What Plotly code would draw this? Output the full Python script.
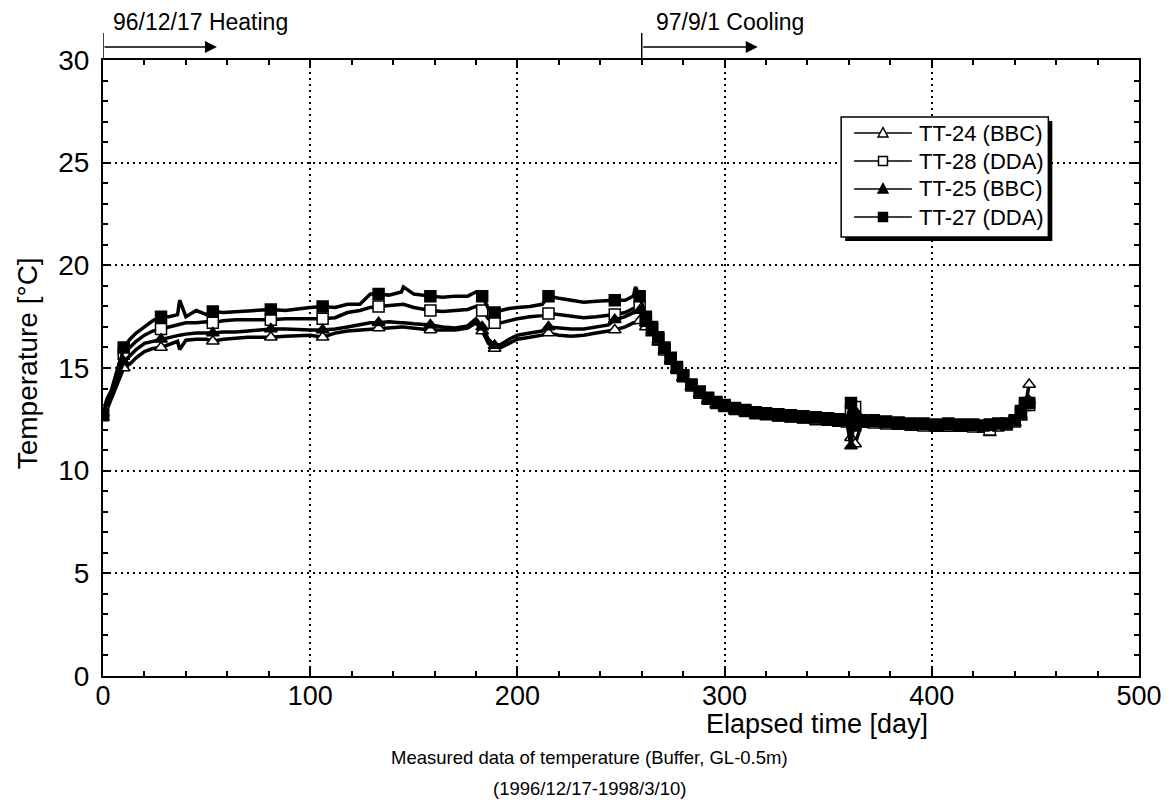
import plotly.graph_objects as go

# Elapsed days of the readings
days = [0, 2, 4, 6, 8, 10, 13, 16, 20, 24,
        28, 32, 36, 37, 40, 45, 50, 53, 58, 64,
        70, 76, 81, 88, 95, 100, 106, 112, 118, 124,
        129, 133, 138, 144, 145, 150, 158, 164, 170, 176,
        180, 183, 186, 189, 192, 196, 200, 206, 212, 215,
        220, 226, 232, 238, 244, 247, 252, 256, 257, 259,
        262, 265, 268, 271, 274, 277, 280, 284, 288, 292,
        296, 300, 305, 310, 315, 320, 326, 332, 338, 344,
        350, 355, 359, 361, 363, 366, 372, 378, 384, 390,
        396, 402, 408, 414, 420, 425, 428, 432, 436, 440,
        443, 445, 447]

# Temperatures [deg C]
tt24_bbc = [12.6, 13.0, 13.5, 14.0, 14.6, 15.0, 15.2, 15.5, 15.8, 15.95,
            16.0, 16.15, 16.3, 15.9, 16.35, 16.4, 16.4, 16.3, 16.4, 16.45,
            16.5, 16.5, 16.5, 16.55, 16.6, 16.6, 16.5, 16.7, 16.8, 16.85,
            16.9, 16.95, 16.95, 17.0, 17.0, 16.95, 16.85, 16.85, 16.85, 16.95,
            17.2, 16.8, 16.2, 15.95, 16.0, 16.2, 16.4, 16.5, 16.6, 16.7,
            16.6, 16.55, 16.6, 16.7, 16.8, 16.85, 17.0, 17.2, 17.2, 17.3,
            17.0, 16.7, 16.25, 15.8, 15.35, 14.9, 14.5, 14.05, 13.7, 13.4,
            13.2, 13.05, 12.9, 12.8, 12.7, 12.65, 12.55, 12.5, 12.45, 12.4,
            12.35, 12.3, 12.3, 11.6, 11.3, 12.25, 12.25, 12.2, 12.15, 12.1,
            12.1, 12.05, 12.05, 12.05, 12.05, 12.0, 11.85, 12.1, 12.15, 12.3,
            12.6, 13.1, 14.2]
tt28_dda = [12.9, 13.5, 13.9, 14.6, 15.3, 15.7, 16.0, 16.3, 16.6, 16.8,
            16.9, 17.0, 17.1, 17.1, 17.2, 17.2, 17.25, 17.2, 17.3, 17.35,
            17.35, 17.35, 17.35, 17.4, 17.4, 17.4, 17.4, 17.45, 17.7, 17.8,
            17.95, 18.0, 18.05, 18.1, 18.1, 17.95, 17.8, 17.75, 17.8, 17.85,
            18.0, 17.8, 17.4, 17.2, 17.2, 17.3, 17.4, 17.5, 17.55, 17.66,
            17.6, 17.5, 17.45, 17.5, 17.55, 17.6, 17.7, 17.9, 17.9, 18.0,
            17.3, 16.9, 16.4, 15.9, 15.45, 15.0, 14.6, 14.15, 13.8, 13.5,
            13.3, 13.15, 13.0, 12.9, 12.8, 12.75, 12.7, 12.65, 12.6, 12.5,
            12.5, 12.45, 12.4, 12.9, 13.1, 12.4, 12.35, 12.3, 12.3, 12.25,
            12.2, 12.2, 12.2, 12.2, 12.15, 12.15, 12.0, 12.2, 12.25, 12.4,
            12.8, 13.2, 13.2]
tt25_bbc = [12.8, 13.3, 13.7, 14.2, 14.8, 15.3, 15.6, 15.9, 16.2, 16.3,
            16.4, 16.5, 16.6, 16.6, 16.65, 16.7, 16.7, 16.7, 16.75, 16.75,
            16.8, 16.85, 16.9, 16.9, 16.85, 16.85, 16.85, 16.9, 17.0, 17.1,
            17.2, 17.2, 17.25, 17.2, 17.2, 17.15, 17.1, 17.0, 16.95, 17.05,
            17.4, 17.0, 16.4, 16.1, 16.15, 16.4, 16.6, 16.7, 16.8, 17.0,
            16.95, 16.9, 16.9, 17.0, 17.1, 17.35, 17.5, 17.7, 17.7, 17.8,
            17.2, 16.8, 16.35, 15.85, 15.4, 14.95, 14.55, 14.1, 13.75, 13.45,
            13.25, 13.1, 12.95, 12.85, 12.75, 12.7, 12.6, 12.55, 12.5, 12.45,
            12.4, 12.35, 12.35, 11.2, 12.9, 12.3, 12.3, 12.25, 12.2, 12.2,
            12.15, 12.1, 12.15, 12.1, 12.1, 12.1, 12.1, 12.2, 12.2, 12.35,
            12.7, 13.3, 13.4]
tt27_dda = [12.7, 13.3, 13.6, 14.3, 15.2, 16.0, 16.4, 16.7, 17.0, 17.3,
            17.5, 17.5, 17.6, 18.3, 17.5, 17.8, 17.6, 17.75, 17.7, 17.75,
            17.8, 17.85, 17.85, 17.8, 17.9, 17.95, 18.0, 17.95, 18.1, 18.1,
            18.6, 18.6, 18.55, 18.7, 18.95, 18.6, 18.5, 18.45, 18.5, 18.5,
            18.7, 18.5, 17.9, 17.7, 17.8, 17.9, 17.95, 18.0, 18.1, 18.5,
            18.4, 18.3, 18.2, 18.25, 18.3, 18.3, 18.3, 18.5, 18.95, 18.5,
            17.5, 17.0, 16.5, 16.0, 15.5, 15.05, 14.65, 14.2, 13.85, 13.55,
            13.35, 13.2, 13.05, 12.95, 12.85, 12.8, 12.75, 12.7, 12.65, 12.6,
            12.55, 12.5, 12.45, 13.3, 12.2, 12.45, 12.45, 12.4, 12.35, 12.3,
            12.3, 12.25, 12.3, 12.25, 12.25, 12.2, 12.25, 12.3, 12.3, 12.45,
            12.9, 13.3, 13.3]

# Days on which a symbol is plotted
marker_days = [0, 10, 28, 53, 81, 106, 133, 158, 183, 189, 215, 247, 259] + [d for d in days if d >= 262]

series = [
    ("TT-24 (BBC)", tt24_bbc, "triangle-up", "white"),
    ("TT-28 (DDA)", tt28_dda, "square", "white"),
    ("TT-25 (BBC)", tt25_bbc, "triangle-up", "black"),
    ("TT-27 (DDA)", tt27_dda, "square", "black"),
]

FONT = "Liberation Sans"
fig = go.Figure()

for name, vals, sym, fill in series:
    fig.add_trace(go.Scatter(x=days, y=vals, mode="lines", line=dict(color="black", width=3.5),
                             showlegend=False, name=name, hoverinfo="skip"))
    idx = [i for i, d in enumerate(days) if d in marker_days]
    fig.add_trace(go.Scatter(x=[days[i] for i in idx], y=[vals[i] for i in idx], mode="markers",
                             marker=dict(symbol=sym, size=11, color=fill, line=dict(color="black", width=1.5)),
                             showlegend=False, name=name))

axis_common = dict(
    showline=True, linecolor="black", linewidth=2, mirror="allticks",
    ticks="inside", ticklen=8, tickwidth=1.5, tickcolor="black",
    showgrid=True, gridcolor="black", gridwidth=1.5, griddash="2px,4px",
    zeroline=False,
)
fig.update_xaxes(range=[0, 500], dtick=100, tick0=0, ticklabelstandoff=-5,
                 tickfont=dict(family=FONT, size=27, color="black"),
                 minor=dict(dtick=20, ticks="inside", ticklen=5, tickcolor="black", showgrid=False),
                 **axis_common)
fig.update_yaxes(range=[0, 30], dtick=5, tick0=0, ticklabelstandoff=6,
                 tickfont=dict(family=FONT, size=28, color="black"),
                 minor=dict(dtick=1, ticks="inside", ticklen=5, tickcolor="black", showgrid=False),
                 **axis_common)

W, H = 1174, 804
L, R, T, B = 103, 31, 60, 128
pw, ph = W - L - R, H - T - B


def px_x(p):
    return (p - L) / pw


def px_y(p):
    return (H - B - p) / ph


def label(text, x, y, size, xanchor="center", xref="paper", **kw):
    return dict(text=text, xref=xref, yref="paper", x=x, y=y, xanchor=xanchor, yanchor="middle",
                showarrow=False, font=dict(family=FONT, size=size, color="black"), **kw)


annotations = [
    label("Temperature [°C]", px_x(27), px_y(363), 28, textangle=-90),
    label("Elapsed time [day]", px_x(820), px_y(724), 27),
    label("Measured data of temperature (Buffer, GL-0.5m)", px_x(591), px_y(757), 18.5),
    label("(1996/12/17-1998/3/10)", px_x(591), px_y(788), 18.5),
    label("96/12/17 Heating", 4, px_y(22), 23, xanchor="left", xref="x"),
    label("97/9/1 Cooling", 266, px_y(22), 23, xanchor="left", xref="x"),
    dict(text="", xref="x", yref="paper", x=55, y=px_y(47), axref="x", ax=0, ayref="pixel", ay=0,
         showarrow=True, arrowhead=2, arrowsize=1.6, arrowwidth=1.5, arrowcolor="black"),
    dict(text="", xref="x", yref="paper", x=316, y=px_y(47), axref="x", ax=260, ayref="pixel", ay=0,
         showarrow=True, arrowhead=2, arrowsize=1.6, arrowwidth=1.5, arrowcolor="black"),
]

shapes = [
    dict(type="line", xref="x", yref="paper", x0=0, x1=0, y0=1, y1=px_y(33),
         line=dict(color="black", width=1.5)),
    dict(type="line", xref="x", yref="paper", x0=260, x1=260, y0=1, y1=px_y(33),
         line=dict(color="black", width=1.5)),
]

# Legend box with drop shadow
box_l, box_r, box_t, box_b = 844, 1052, 117, 237


def rect(x0, x1, y0, y1, **kw):
    return dict(type="rect", xref="paper", yref="paper", x0=px_x(x0), x1=px_x(x1),
                y0=px_y(y1), y1=px_y(y0), layer="above", **kw)


shapes.append(rect(box_l + 4, box_r + 4, box_t + 4, box_b + 4, fillcolor="black", line=dict(width=0)))
shapes.append(rect(box_l, box_r, box_t, box_b, fillcolor="white", line=dict(color="black", width=1.5)))

row_y = [133, 161, 189, 217]
line_x0, line_x1, mark_x, text_x = 857, 915, 886, 920
for (name, vals, sym, fill), ry in zip(series, row_y):
    shapes.append(dict(type="line", xref="paper", yref="paper", x0=px_x(line_x0), x1=px_x(line_x1),
                       y0=px_y(ry), y1=px_y(ry), layer="above", line=dict(color="black", width=1.5)))
    if sym == "square":
        shapes.append(rect(mark_x - 4.5, mark_x + 4.5, ry - 4.5, ry + 4.5, fillcolor=fill,
                           line=dict(color="black", width=1.5)))
    else:
        pts = [(mark_x, ry - 5.5), (mark_x - 5, ry + 4), (mark_x + 5, ry + 4)]
        path = "M " + " L ".join(f"{px_x(a):.5f},{px_y(b):.5f}" for a, b in pts) + " Z"
        shapes.append(dict(type="path", xref="paper", yref="paper", path=path, layer="above",
                           fillcolor=fill, line=dict(color="black", width=1.5)))
    annotations.append(label(name, px_x(text_x), px_y(ry), 22, xanchor="left"))

fig.update_layout(
    width=W, height=H,
    margin=dict(l=L, r=R, t=T, b=B),
    paper_bgcolor="white", plot_bgcolor="white",
    font=dict(family=FONT, color="black"),
    showlegend=False,
    annotations=annotations,
    shapes=shapes,
)

fig.write_html("out.html")
